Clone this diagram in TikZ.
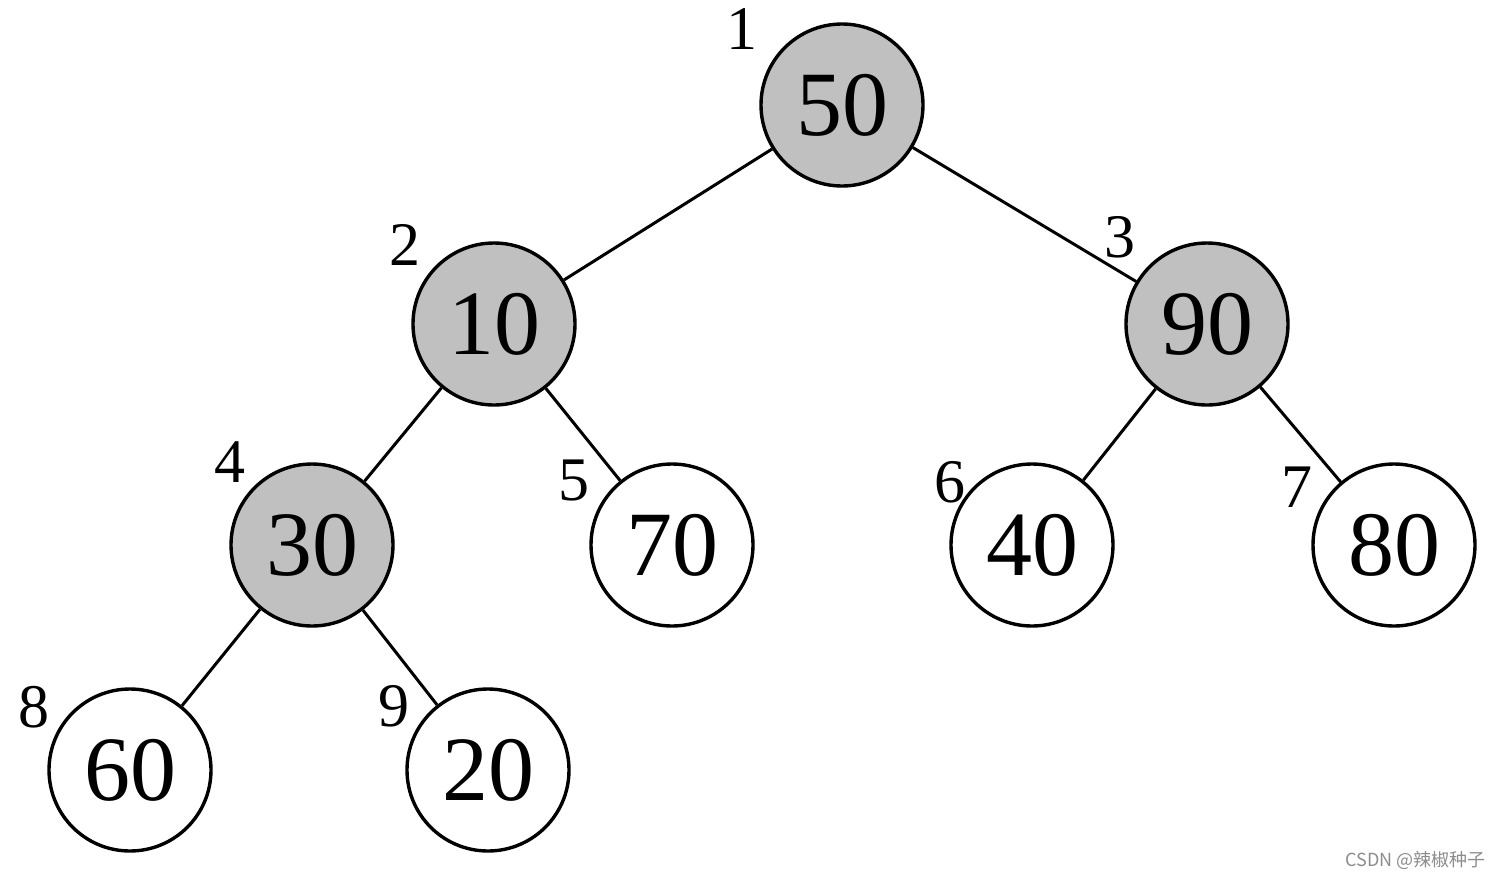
\documentclass[tikz,border=0pt]{standalone}
\usepackage{fontspec}
\setmainfont{Liberation Serif}
\newfontfamily\cjkwm{Noto Sans CJK SC}
\definecolor{nodegray}{RGB}{192,192,192}
\definecolor{wmgray}{RGB}{140,140,140}
\begin{document}
\begin{tikzpicture}[x=1pt,y=-1pt,
  treenode/.style={circle,draw=black,line width=3.4pt,minimum size=162pt,inner sep=0pt,font=\fontsize{92}{92}\selectfont},
  graynode/.style={treenode,fill=nodegray},
  whitenode/.style={treenode,fill=white},
  idxlabel/.style={inner sep=0pt,font=\fontsize{62}{62}\selectfont},
  edge/.style={line width=3pt,draw=black}]
\useasboundingbox (0,0) rectangle (1500,879);
\node[graynode] (n1) at (842,105) {50};
\node[graynode] (n2) at (494,324) {10};
\node[graynode] (n3) at (1207,324) {90};
\node[graynode] (n4) at (312,545) {30};
\node[whitenode] (n5) at (672,545) {70};
\node[whitenode] (n6) at (1032,545) {40};
\node[whitenode] (n7) at (1394,545) {80};
\node[whitenode] (n8) at (130,770) {60};
\node[whitenode] (n9) at (488,770) {20};
\draw[edge] (n1) -- (n2);
\draw[edge] (n1) -- (n3);
\draw[edge] (n2) -- (n4);
\draw[edge] (n2) -- (n5);
\draw[edge] (n3) -- (n6);
\draw[edge] (n3) -- (n7);
\draw[edge] (n4) -- (n8);
\draw[edge] (n4) -- (n9);
\node[idxlabel] (l1) at (742,29) {1};
\node[idxlabel] (l2) at (405,245) {2};
\node[idxlabel] (l3) at (1120,237) {3};
\node[idxlabel] (l4) at (230,462) {4};
\node[idxlabel] (l5) at (574,480) {5};
\node[idxlabel] (l6) at (950,482) {6};
\node[idxlabel] (l7) at (1297,487) {7};
\node[idxlabel] (l8) at (34,707) {8};
\node[idxlabel] (l9) at (394,706) {9};
\node[inner sep=0pt,anchor=east,text=wmgray,font=\cjkwm\fontsize{18}{18}\selectfont] (wm) at (1486,860) {CSDN @辣椒种子};
\end{tikzpicture}
\end{document}
